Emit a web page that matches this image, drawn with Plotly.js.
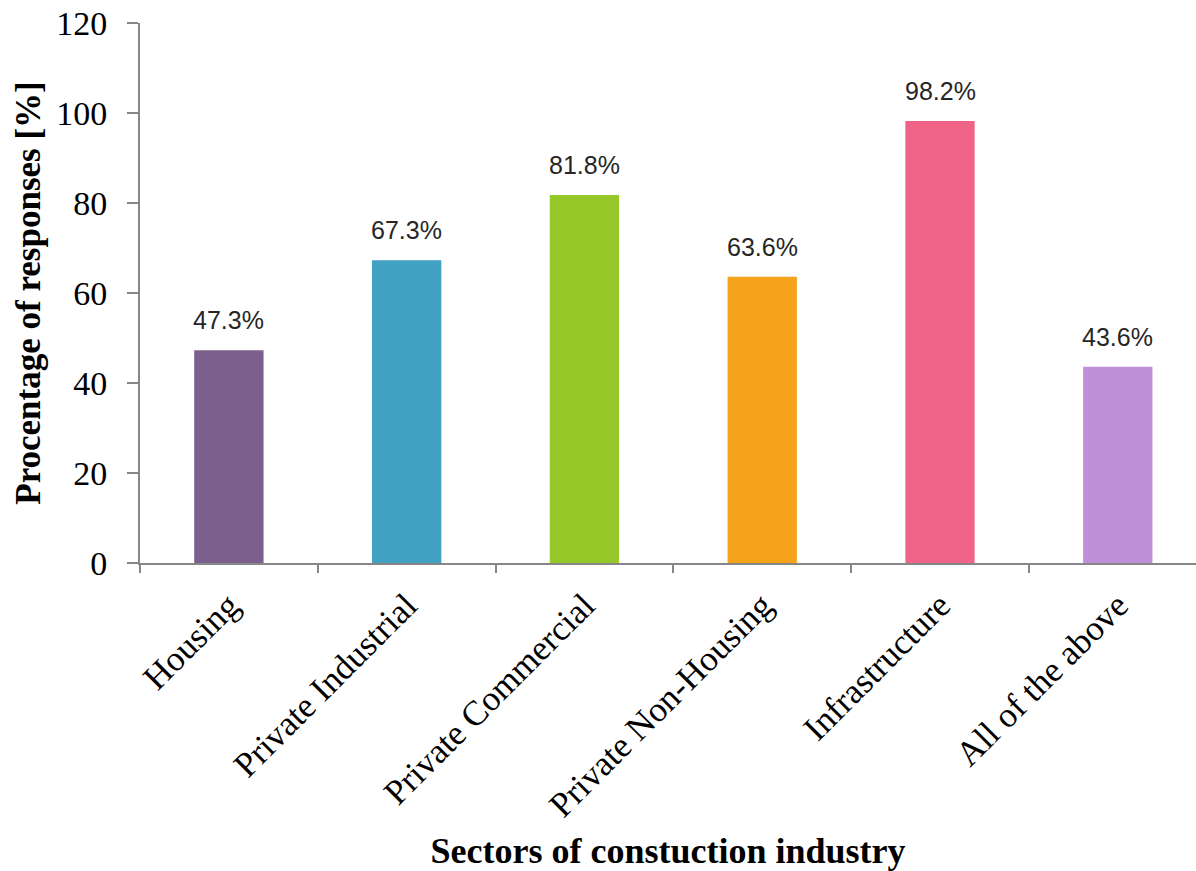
<!DOCTYPE html>
<html>
<head>
<meta charset="utf-8">
<script src="https://cdn.plot.ly/plotly-3.0.1.min.js"></script>
<style>html,body{margin:0;padding:0;background:#fff;overflow:hidden}</style>
</head>
<body>
<div id="chart" style="width:1196px;height:871px"></div>
<script>
const categories = ["Housing", "Private Industrial", "Private Commercial", "Private Non-Housing", "Infrastructure", "All of the above"];
const values = [47.3, 67.3, 81.8, 63.6, 98.2, 43.6];
const barColors = ["#7D5F8D", "#41A1C3", "#96C82A", "#F5A31B", "#F06487", "#BF8FD8"];
const yTicks = [0, 20, 40, 60, 80, 100, 120];

const serif = "Liberation Serif, Times New Roman, serif";
const sans = "Liberation Sans, Arial, sans-serif";

const trace = {
  type: "bar",
  x: categories,
  y: values,
  marker: {color: barColors, line: {width: 0}},
  hoverinfo: "none"
};

const annotations = categories.map((c, i) => ({
  x: c, y: values[i], xref: "x", yref: "y",
  text: values[i].toFixed(1) + "%",
  showarrow: false, yanchor: "bottom", yshift: 14,
  font: {family: sans, size: 25, color: "#262626"}
}));

const layout = {
  width: 1196, height: 871,
  margin: {l: 140, r: 0, t: 23, b: 308, pad: 0},
  paper_bgcolor: "#fff", plot_bgcolor: "#fff",
  bargap: 0.61,
  showlegend: false,
  xaxis: {
    type: "category",
    range: [-0.5, 5.44],
    showline: true, linecolor: "#868686", linewidth: 2,
    ticks: "outside", ticklen: 8, tickwidth: 2, tickcolor: "#868686",
    tickson: "boundaries",
    tickangle: -45,
    ticklabelstandoff: 6,
    tickfont: {family: serif, size: 35, color: "#000"},
    showgrid: false, zeroline: false, automargin: false,
    title: {text: "<b>Sectors of constuction industry</b>", font: {family: serif, size: 36, color: "#000"}, standoff: 36}
  },
  yaxis: {
    range: [0, 120],
    tickvals: yTicks,
    showline: true, linecolor: "#868686", linewidth: 2,
    ticks: "outside", ticklen: 11, tickwidth: 2, tickcolor: "#868686",
    tickfont: {family: serif, size: 34, color: "#000"},
    ticklabelstandoff: 13,
    showgrid: false, zeroline: false, automargin: false,
    title: {text: "<b>Procentage of responses [%]</b>", font: {family: serif, size: 35, color: "#000"}, standoff: 5}
  },
  annotations: annotations
};

Plotly.newPlot("chart", [trace], layout, {staticPlot: true, displayModeBar: false});
</script>
</body>
</html>
